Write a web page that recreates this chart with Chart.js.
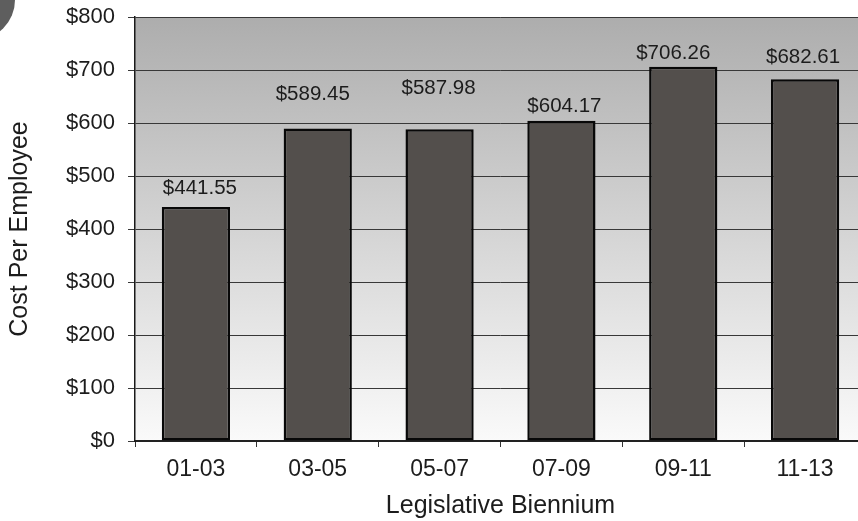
<!DOCTYPE html>
<html>
<head>
<meta charset="utf-8">
<script src="https://cdn.jsdelivr.net/npm/chart.js@4.4.1/dist/chart.umd.min.js"></script>
<style>
  html, body { margin: 0; padding: 0; background: #ffffff; }
  #wrap { position: relative; width: 858px; height: 521px; overflow: hidden; background: #ffffff; }
  #chart { position: absolute; left: 0; top: 0; }
  #disc { position: absolute; left: -65px; top: -40px; width: 80px; height: 80px; border-radius: 50%; background: #5e5e5e; }
</style>
</head>
<body>
<div id="wrap">
  <canvas id="chart" width="866" height="521"></canvas>
  <div id="disc"></div>
</div>
<script>
// Biennium periods and average cost per employee (dollars)
const biennia = ['01-03', '03-05', '05-07', '07-09', '09-11', '11-13'];
const costPerEmployee = [441.55, 589.45, 587.98, 604.17, 706.26, 682.61];
const yTicks = [0, 100, 200, 300, 400, 500, 600, 700, 800];

const FONT = "'Liberation Sans', Arial, Helvetica, sans-serif";
const INK = '#1c1c1c';

const money = v => '$' + v.toFixed(2);

// Shaded plot background: darker at the top, fading to white at the baseline
const plotBackground = {
  id: 'plotBackground',
  beforeDraw(chart) {
    const { ctx, chartArea: a } = chart;
    const g = ctx.createLinearGradient(0, a.top, 0, a.bottom);
    g.addColorStop(0, '#adadad');
    g.addColorStop(0.45, '#d0d0d0');
    g.addColorStop(1, '#fafafa');
    ctx.save();
    ctx.fillStyle = g;
    ctx.fillRect(a.left, a.top, a.right - a.left, a.bottom - a.top);
    ctx.restore();
  }
};

// Dollar labels above each bar, each nudged by its own offset
const valueLabels = {
  id: 'valueLabels',
  afterDatasetsDraw(chart, args, opts) {
    const { ctx } = chart;
    const meta = chart.getDatasetMeta(0);
    const values = chart.data.datasets[0].data;
    ctx.save();
    ctx.font = opts.size + 'px ' + FONT;
    ctx.fillStyle = INK;
    ctx.textAlign = 'center';
    ctx.textBaseline = 'alphabetic';
    meta.data.forEach((bar, i) => {
      const [dx, dy] = opts.offsets[i] || [0, -8];
      ctx.fillText(money(values[i]), bar.x + dx, bar.y + dy);
    });
    ctx.restore();
  }
};

new Chart(document.getElementById('chart'), {
  type: 'bar',
  data: {
    labels: biennia,
    datasets: [{
      data: costPerEmployee,
      backgroundColor: '#534f4c',
      borderColor: '#080808',
      borderWidth: 2.5,
      borderSkipped: false,
      barPercentage: 0.56,
      categoryPercentage: 1.0
    }]
  },
  options: {
    responsive: false,
    animation: false,
    events: [],
    layout: { padding: { top: 17, right: 0, bottom: 0, left: 0 } },
    plugins: {
      legend: { display: false },
      tooltip: { enabled: false },
      valueLabels: {
        size: 20.5,
        offsets: [[4, -13], [-5, -29], [-1, -35], [3, -9], [-10, -8], [-2, -16]]
      }
    },
    scales: {
      x: {
        offset: true,
        grid: {
          offset: true,
          drawOnChartArea: false,
          drawTicks: true,
          tickLength: 6,
          color: '#333333',
          lineWidth: 1
        },
        border: { display: true, color: '#222222', width: 2 },
        ticks: {
          color: INK,
          font: { family: FONT, size: 23 },
          padding: 9,
          maxRotation: 0
        },
        title: {
          display: true,
          text: 'Legislative Biennium',
          color: INK,
          font: { family: FONT, size: 25 },
          padding: { top: 0, bottom: 0 }
        },
        afterFit(scale) {
          scale.height = 80;
          scale.paddingLeft = 0;
          scale.paddingRight = 0;
        }
      },
      y: {
        min: 0,
        max: 800,
        afterBuildTicks(scale) { scale.ticks = yTicks.map(v => ({ value: v })); },
        grid: {
          color: '#383838',
          lineWidth: 1,
          drawTicks: true,
          tickLength: 7
        },
        border: { display: true, color: '#1a1a1a', width: 1.5 },
        ticks: {
          color: INK,
          font: { family: FONT, size: 22 },
          padding: 13,
          callback: v => '$' + v
        },
        title: {
          display: true,
          text: 'Cost Per Employee',
          color: INK,
          font: { family: FONT, size: 25 },
          padding: { top: 5, bottom: 0 }
        },
        afterFit(scale) {
          scale.width = 135;
          scale.paddingTop = 0;
          scale.paddingBottom = 0;
        }
      }
    }
  },
  plugins: [plotBackground, valueLabels]
});
</script>
</body>
</html>
